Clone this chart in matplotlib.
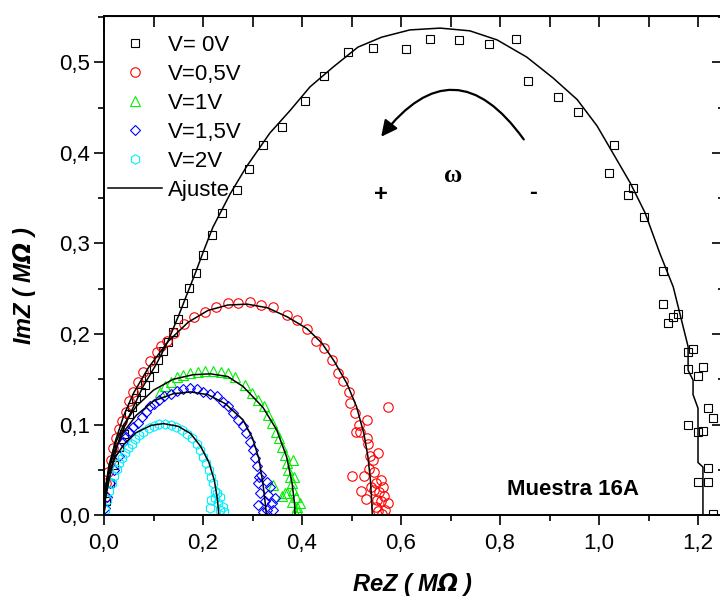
import matplotlib
matplotlib.use("Agg")
import matplotlib.pyplot as plt
from matplotlib.ticker import MultipleLocator, FuncFormatter

plt.rcParams['font.family'] = ['Liberation Sans', 'DejaVu Sans']
plt.rcParams['mathtext.default'] = 'bfit'

# ---- data (MOhm) ----
v0_re = [0.005, 0.012, 0.02, 0.03, 0.04, 0.050, 0.057, 0.065, 0.074, 0.083, 0.091, 0.100, 0.110, 0.120,
         0.130, 0.139, 0.150, 0.160, 0.172, 0.186, 0.200, 0.218, 0.238, 0.268, 0.293, 0.321, 0.359,
         0.406, 0.445, 0.493, 0.544, 0.610, 0.659, 0.717, 0.778, 0.832, 0.857, 0.917, 0.957, 1.030,
         1.020, 1.069, 1.059, 1.091, 1.129, 1.129, 1.140, 1.150, 1.160, 1.180, 1.190, 1.180, 1.200,
         1.210, 1.220, 1.230, 1.180, 1.200, 1.210, 1.220, 1.200, 1.220, 1.230]
v0_im = [0.015, 0.035, 0.055, 0.075, 0.09, 0.112, 0.119, 0.129, 0.136, 0.144, 0.153, 0.162, 0.171, 0.181,
         0.191, 0.202, 0.217, 0.234, 0.251, 0.267, 0.287, 0.309, 0.334, 0.359, 0.382, 0.409, 0.429,
         0.457, 0.485, 0.512, 0.516, 0.515, 0.526, 0.525, 0.520, 0.526, 0.480, 0.462, 0.445, 0.409,
         0.378, 0.361, 0.354, 0.329, 0.270, 0.233, 0.212, 0.219, 0.222, 0.180, 0.183, 0.161, 0.154,
         0.164, 0.118, 0.107, 0.099, 0.092, 0.093, 0.052, 0.036, 0.037, 0.001]

v05_re = [0.002, 0.004, 0.009, 0.014, 0.019, 0.024, 0.031, 0.036, 0.044, 0.051, 0.059, 0.069, 0.079,
          0.093, 0.107, 0.116, 0.127, 0.141, 0.162, 0.182, 0.204, 0.226, 0.250, 0.271, 0.295, 0.317,
          0.342, 0.369, 0.389, 0.410, 0.428, 0.444, 0.460, 0.473, 0.483, 0.495, 0.497, 0.507, 0.515,
          0.509, 0.517, 0.531, 0.574, 0.531, 0.533, 0.537, 0.553, 0.543, 0.535, 0.545, 0.501, 0.525,
          0.559, 0.549, 0.564, 0.519, 0.539, 0.545, 0.556, 0.566, 0.529, 0.552, 0.559, 0.574, 0.549,
          0.568, 0.553, 0.562]
v05_im = [0.020, 0.035, 0.048, 0.061, 0.074, 0.085, 0.095, 0.104, 0.114, 0.126, 0.136, 0.147, 0.158,
          0.170, 0.180, 0.187, 0.192, 0.201, 0.211, 0.219, 0.224, 0.230, 0.234, 0.234, 0.235, 0.232,
          0.230, 0.221, 0.215, 0.206, 0.192, 0.184, 0.171, 0.157, 0.148, 0.136, 0.124, 0.113, 0.099,
          0.092, 0.092, 0.105, 0.119, 0.085, 0.078, 0.065, 0.069, 0.061, 0.051, 0.047, 0.043, 0.043,
          0.039, 0.035, 0.031, 0.026, 0.031, 0.028, 0.025, 0.021, 0.018, 0.017, 0.015, 0.013, 0.009,
          0.005, 0.004, 0.001]

v1_re = [0.113, 0.123, 0.135, 0.147, 0.160, 0.174, 0.189, 0.204, 0.220, 0.236, 0.251, 0.265, 0.285,
         0.299, 0.311, 0.323, 0.331, 0.340, 0.347, 0.354, 0.359, 0.366, 0.369, 0.372, 0.376, 0.342,
         0.359, 0.366, 0.379, 0.382, 0.388, 0.379, 0.389, 0.392, 0.370, 0.386, 0.396, 0.382, 0.384]
v1_im = [0.136, 0.142, 0.147, 0.152, 0.155, 0.157, 0.158, 0.159, 0.159, 0.158, 0.157, 0.152, 0.144,
         0.135, 0.127, 0.120, 0.110, 0.102, 0.092, 0.085, 0.075, 0.066, 0.057, 0.050, 0.042, 0.033,
         0.021, 0.024, 0.035, 0.028, 0.020, 0.014, 0.009, 0.003, 0.024, 0.003, 0.013, 0.061, 0.042]

v15_re = [0.002, 0.006, 0.012, 0.020, 0.030, 0.038, 0.044, 0.051, 0.059, 0.068, 0.076, 0.084, 0.093,
          0.102, 0.112, 0.122, 0.135, 0.147, 0.160, 0.174, 0.187, 0.200, 0.214, 0.228, 0.240, 0.251,
          0.261, 0.271, 0.280, 0.287, 0.294, 0.300, 0.305, 0.310, 0.314, 0.318, 0.311, 0.329, 0.315,
          0.332, 0.311, 0.325, 0.339, 0.329, 0.342, 0.321, 0.335, 0.345]
v15_im = [0.008, 0.020, 0.035, 0.050, 0.065, 0.081, 0.086, 0.092, 0.097, 0.102, 0.108, 0.114, 0.120,
          0.123, 0.127, 0.131, 0.134, 0.137, 0.139, 0.140, 0.139, 0.136, 0.134, 0.131, 0.125, 0.120,
          0.113, 0.105, 0.098, 0.091, 0.081, 0.072, 0.063, 0.054, 0.042, 0.044, 0.035, 0.037, 0.024,
          0.022, 0.011, 0.015, 0.013, 0.006, 0.005, 0.003, 0.031, 0.019]

v2_re = [0.003, 0.007, 0.011, 0.016, 0.020, 0.026, 0.031, 0.036, 0.043, 0.049, 0.056, 0.063, 0.071,
         0.079, 0.090, 0.100, 0.112, 0.123, 0.135, 0.145, 0.157, 0.167, 0.177, 0.187, 0.194, 0.200,
         0.207, 0.213, 0.217, 0.221, 0.224, 0.214, 0.217, 0.224, 0.231, 0.234, 0.240, 0.242, 0.228,
         0.234]
v2_im = [0.006, 0.017, 0.026, 0.035, 0.043, 0.051, 0.057, 0.063, 0.068, 0.074, 0.079, 0.084, 0.088,
         0.092, 0.096, 0.098, 0.101, 0.101, 0.099, 0.097, 0.094, 0.089, 0.085, 0.079, 0.072, 0.064,
         0.057, 0.050, 0.042, 0.035, 0.027, 0.008, 0.017, 0.019, 0.013, 0.006, 0.009, 0.003, 0.024,
         0.020]

# fitted curves ("Ajuste")
fit0_re = [0.0, 0.002, 0.009, 0.019, 0.032, 0.053, 0.079, 0.107, 0.130, 0.152, 0.167, 0.185, 0.200,
           0.220, 0.255, 0.288, 0.335, 0.376, 0.416, 0.463, 0.513, 0.561, 0.618, 0.679, 0.739, 0.794,
           0.854, 0.907, 0.956, 0.996, 1.028, 1.063, 1.093, 1.123, 1.150, 1.160, 1.180, 1.180, 1.190,
           1.190, 1.200, 1.200, 1.210, 1.210]
fit0_im = [0.0, 0.015, 0.035, 0.061, 0.086, 0.112, 0.142, 0.168, 0.193, 0.222, 0.243, 0.268, 0.290,
           0.318, 0.355, 0.385, 0.422, 0.447, 0.473, 0.495, 0.517, 0.528, 0.536, 0.538, 0.535, 0.525,
           0.506, 0.483, 0.459, 0.430, 0.400, 0.367, 0.334, 0.289, 0.252, 0.230, 0.186, 0.160, 0.149,
           0.133, 0.118, 0.058, 0.053, 0.0]

fit05_re = [0.0, 0.004, 0.010, 0.022, 0.040, 0.060, 0.090, 0.130, 0.170, 0.210, 0.250, 0.289, 0.330,
            0.370, 0.410, 0.440, 0.465, 0.491, 0.510, 0.525, 0.533, 0.538, 0.541, 0.542]
fit05_im = [0.0, 0.030, 0.050, 0.080, 0.110, 0.135, 0.163, 0.192, 0.213, 0.226, 0.232, 0.233, 0.229,
            0.219, 0.206, 0.190, 0.170, 0.145, 0.120, 0.090, 0.065, 0.040, 0.015, 0.0]

fit1_re = [0.0, 0.003, 0.010, 0.022, 0.040, 0.065, 0.100, 0.140, 0.180, 0.215, 0.250, 0.281, 0.321,
           0.349, 0.369, 0.380, 0.385, 0.386]
fit1_im = [0.0, 0.030, 0.055, 0.078, 0.100, 0.120, 0.138, 0.150, 0.155, 0.156, 0.153, 0.142, 0.119,
           0.094, 0.064, 0.035, 0.012, 0.0]

fit15_re = [0.0, 0.003, 0.010, 0.022, 0.040, 0.065, 0.100, 0.140, 0.175, 0.210, 0.245, 0.281, 0.300,
            0.313, 0.321, 0.326, 0.328]
fit15_im = [0.0, 0.028, 0.050, 0.072, 0.092, 0.110, 0.126, 0.134, 0.136, 0.133, 0.123, 0.105, 0.085,
            0.062, 0.035, 0.012, 0.0]

fit2_re = [0.0, 0.003, 0.010, 0.022, 0.040, 0.065, 0.095, 0.120, 0.150, 0.175, 0.195, 0.212, 0.223,
           0.229, 0.232]
fit2_im = [0.0, 0.025, 0.045, 0.063, 0.078, 0.091, 0.099, 0.101, 0.098, 0.090, 0.076, 0.058, 0.038,
           0.018, 0.0]

labels = ['V= 0V', 'V=0,5V', 'V=1V', 'V=1,5V', 'V=2V', 'Ajuste']

fig = plt.figure(figsize=(7.2, 5.99), dpi=100)
ax = fig.add_axes([104/720, 84/599, 618/720, 499/599])

mk = dict(linestyle='none', markerfacecolor='none', markeredgewidth=0.8)
ax.plot(v0_re, v0_im, marker='s', markersize=5.5, markeredgecolor='black', label=labels[0], **mk)
ax.plot(v05_re, v05_im, marker='o', markersize=6.8, markeredgecolor='#ff0000', label=labels[1], **mk)
ax.plot(v1_re, v1_im, marker='^', markersize=7, markeredgecolor='#00f000', label=labels[2], **mk)
ax.plot(v15_re, v15_im, marker='D', markersize=5, markeredgecolor='#0000ff', label=labels[3], **mk)
ax.plot(v2_re, v2_im, marker='h', markersize=6.8, markeredgecolor='#00eeff', label=labels[4], **mk)

for i, (xr, yi) in enumerate([(fit0_re, fit0_im), (fit05_re, fit05_im), (fit1_re, fit1_im),
                              (fit15_re, fit15_im), (fit2_re, fit2_im)]):
    ax.plot(xr, yi, color='black', lw=1.1, label=labels[5] if i == 0 else None)

ax.set_xlim(0, 618/495)
ax.set_ylim(0, 499/905)

comma = FuncFormatter(lambda v, p: f"{v:.1f}".replace('.', ','))
ax.xaxis.set_major_locator(MultipleLocator(0.2))
ax.xaxis.set_minor_locator(MultipleLocator(0.1))
ax.yaxis.set_major_locator(MultipleLocator(0.1))
ax.yaxis.set_minor_locator(MultipleLocator(0.05))
ax.xaxis.set_major_formatter(comma)
ax.yaxis.set_major_formatter(comma)
ax.tick_params(which='both', direction='out', labelsize=16, width=1.2)
ax.tick_params(axis='x', which='major', length=7, pad=6)
ax.tick_params(axis='x', which='minor', length=4.5)
ax.tick_params(axis='y', which='major', length=7, pad=3)
ax.tick_params(axis='y', which='minor', length=4.5)
for s in ax.spines.values():
    s.set_linewidth(1.4)

top = ax.secondary_xaxis('top')
top.xaxis.set_major_locator(MultipleLocator(0.1))
top.tick_params(direction='in', length=8, width=1.2, labeltop=False)
right = ax.secondary_yaxis('right')
right.yaxis.set_major_locator(MultipleLocator(0.1))
right.yaxis.set_minor_locator(MultipleLocator(0.05))
right.tick_params(which='major', direction='in', length=7, width=1.2, labelright=False)
right.tick_params(which='minor', direction='in', length=3, width=1.2)

lab = dict(fontsize=17, fontweight='bold', fontstyle='italic')
ax.set_xlabel('ReZ ( M$\\Omega$ )', **lab)
ax.set_ylabel('ImZ ( M$\\Omega$ )', **lab)
ax.xaxis.set_label_coords(0.5, -0.112)
ax.yaxis.set_label_coords(-0.106, 0.46)

ax.text(0.814, 0.028, 'Muestra 16A', fontsize=16, fontweight='bold', ha='left', va='center')
ax.text(0.705, 0.375, '\u03c9', fontsize=18, fontweight='bold', family='Liberation Serif',
        ha='center', va='center')
ax.text(0.56, 0.354, '+', fontsize=17, fontweight='bold', ha='center', va='center')
ax.text(0.867, 0.356, '-', fontsize=17, fontweight='bold', ha='center', va='center')
ax.annotate('', xy=(0.56, 0.418), xytext=(0.848, 0.415),
            arrowprops=dict(arrowstyle='-|>', color='black', lw=1.6, mutation_scale=24,
                            connectionstyle='arc3,rad=0.67', shrinkA=0, shrinkB=0))

ax.legend(loc='upper left', bbox_to_anchor=(-0.019, 0.993), frameon=False, fontsize=16,
          handlelength=2.45, handletextpad=0.27, labelspacing=0.36, borderpad=0.2)

fig.savefig('out.png', dpi=100)
